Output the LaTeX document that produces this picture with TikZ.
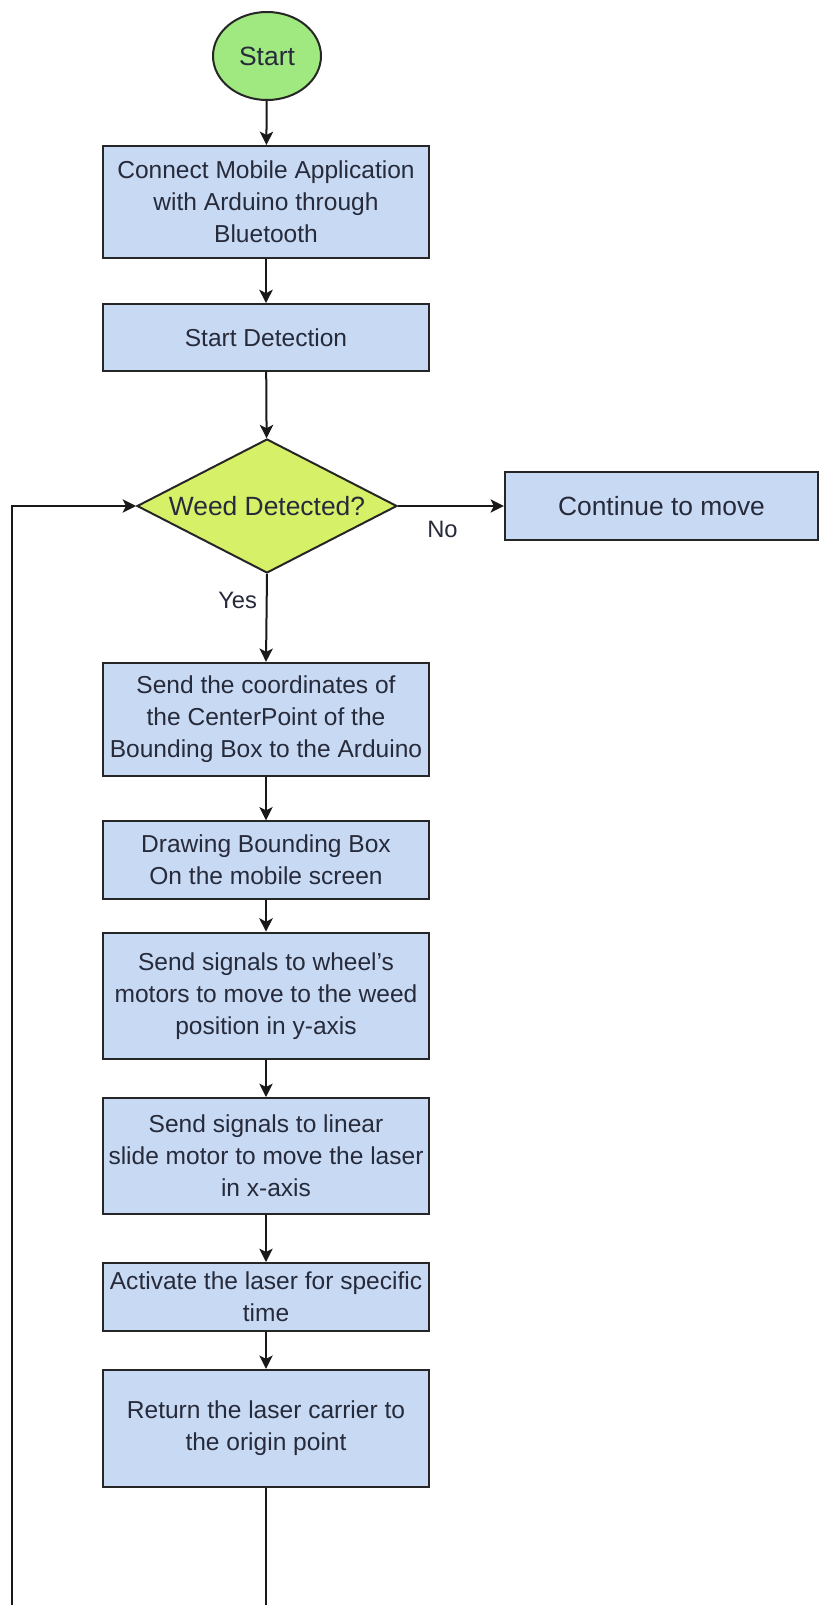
\documentclass[tikz,border=0pt]{standalone}
\usepackage{fontspec}
\setmainfont{Liberation Sans}
\usepackage{tikz}
\tikzset{every picture/.style={line width=0.75pt}}
\usetikzlibrary{shapes.geometric, positioning, calc, arrows.meta}

\definecolor{boxblue}{RGB}{200,218,243}
\definecolor{startgreen}{RGB}{160,232,128}
\definecolor{decisionyellow}{RGB}{214,240,104}
\definecolor{inkgray}{RGB}{38,42,58}

\begin{document}
\begin{tikzpicture}[
		x=0.75pt, y=-0.75pt,
		% Process step boxes
		process box/.style={
			rectangle,
			draw=black!85,
			line width=1.5pt,
			fill=boxblue,
			text=inkgray,
			align=center,
			inner sep=2pt,
			minimum width=245pt,
			font=\fontsize{18.4}{24}\selectfont
		},
		% Start terminal
		start node/.style={
			ellipse,
			draw=black!85,
			line width=1.5pt,
			fill=startgreen,
			text=inkgray,
			inner sep=0pt,
			minimum width=81pt,
			minimum height=66pt,
			font=\fontsize{19.8}{24}\selectfont
		},
		% Decision diamond
		decision node/.style={
			diamond,
			aspect=2,
			draw=black!85,
			line width=1.5pt,
			fill=decisionyellow,
			text=inkgray,
			inner sep=0pt,
			minimum width=195pt,
			minimum height=100.5pt,
			font=\fontsize{19.8}{24}\selectfont
		},
		% Connector arrows
		flow arrow/.style={
			draw=black!90,
			line width=1.5pt,
			-{Stealth[length=10pt, width=10pt, inset=2.5pt]}
		},
		% Yes / No labels
		edge label/.style={
			inner sep=0pt,
			text=inkgray,
			font=\fontsize{17.8}{22}\selectfont
		}
		]
		
		\useasboundingbox (0,0) rectangle (819,1605);
		
		% Define coordinates
		\coordinate (C0) at (267, 56);
		\coordinate (C1) at (266, 202);
		\coordinate (C2) at (266, 337.5);
		\coordinate (C3) at (267, 506);
		\coordinate (C4) at (661.5, 506);
		\coordinate (C5) at (266, 719.5);
		\coordinate (C6) at (266, 860);
		\coordinate (C7) at (266, 996);
		\coordinate (C8) at (266, 1156);
		\coordinate (C9) at (266, 1297);
		\coordinate (C10) at (266, 1428.5);
		\coordinate (bottom) at (266, 1605);
		\coordinate (loopbottom) at (12, 1605);
		\coordinate (loopcorner) at (12, 506);
		
		% --- Nodes ---
		\node[start node] (start) at (C0) {Start};
		\node[process box, minimum height=84pt] (connect) at (C1)
		{Connect Mobile Application\\with Arduino through\\Bluetooth};
		\node[process box, minimum height=50pt] (detection) at (C2) {Start Detection};
		\node[decision node] (weed) at (C3) {Weed Detected?};
		\node[process box, minimum width=235pt, minimum height=51pt,
		font=\fontsize{19.8}{24}\selectfont] (continue) at (C4) {Continue to move};
		\node[process box, minimum height=85pt] (coords) at (C5)
		{Send the coordinates of\\the CenterPoint of the\\Bounding Box to the Arduino};
		\node[process box, minimum height=58pt] (drawbox) at (C6)
		{Drawing Bounding Box\\On the mobile screen};
		\node[process box, minimum height=95pt] (wheels) at (C7)
		{Send signals to wheel's\\motors to move to the weed\\position in y-axis};
		\node[process box, minimum height=87pt] (slide) at (C8)
		{Send signals to linear\\slide motor to move the laser\\in x-axis};
		\node[process box, minimum height=51pt] (laser) at (C9)
		{Activate the laser for specific\\time};
		\node[process box, minimum height=88pt] (return) at (C10)
		{Return the laser carrier to\\the origin point};
		
		% --- Connectors ---
		\draw[flow arrow] (start) -- (connect);
		\draw[flow arrow] (connect) -- (detection);
		\draw[flow arrow] (detection) -- (weed);
		\draw[flow arrow] (weed.east) -- node[edge label, pos=0.42, below=11pt] {No} (continue.west);
		\draw[flow arrow] (weed.south) -- node[edge label, pos=0.3, left=6.5pt] {Yes} (coords.north);
		\draw[flow arrow] (coords) -- (drawbox);
		\draw[flow arrow] (drawbox) -- (wheels);
		\draw[flow arrow] (wheels) -- (slide);
		\draw[flow arrow] (slide) -- (laser);
		\draw[flow arrow] (laser) -- (return);
		
		% --- Loop back to the decision ---
		\draw[draw=black!90, line width=1.5pt] (return.south) -- (bottom);
		\draw[flow arrow] (loopbottom) -- (loopcorner) -- (weed.west);
		
	\end{tikzpicture}
\end{document}
